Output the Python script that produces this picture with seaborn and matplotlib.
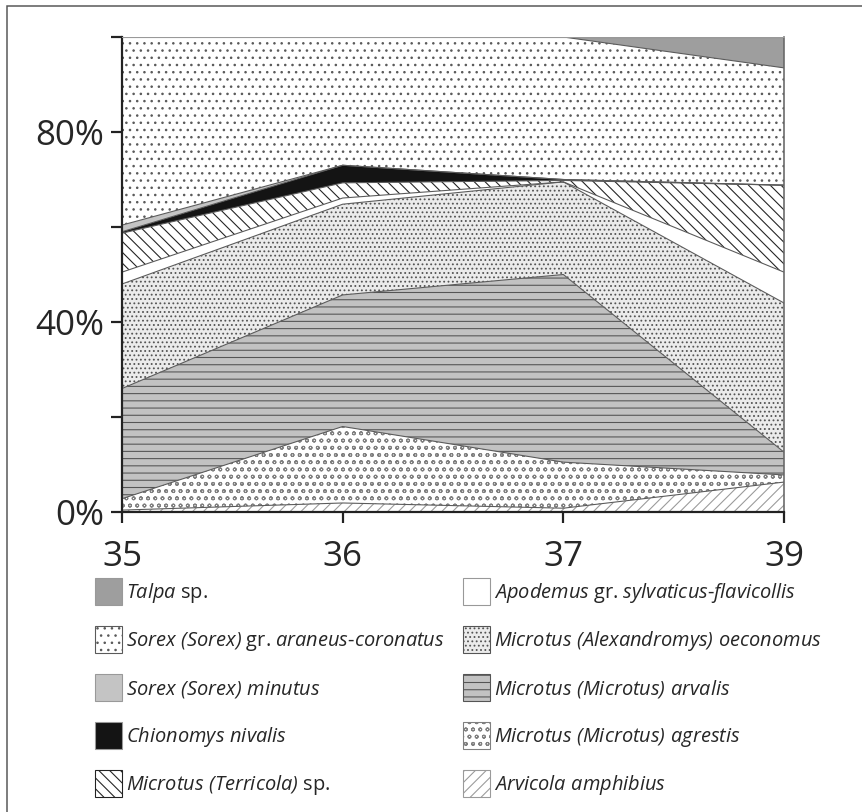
import numpy as np
import pandas as pd
import matplotlib
matplotlib.use('Agg')
import matplotlib.pyplot as plt
from matplotlib.patches import Patch, Rectangle
import seaborn as sns

# sample levels on the x axis (equally spaced)
levels = ['35', '36', '37', '39']

# percentage of each taxon per level, bottom of the stack first
arvicola = [0.4, 1.9, 0.8, 6.3]
agrestis = [2.4, 16.1, 9.7, 1.5]
arvalis = [23.2, 27.7, 39.5, 4.8]
oeconomus = [22.0, 19.1, 19.5, 31.4]
apodemus = [2.5, 1.3, 0.0, 6.5]
terricola = [8.2, 3.2, 0.3, 18.3]
chionomys = [0.3, 3.7, 0.2, 0.0]
minutus = [1.4, 0.0, 0.0, 0.0]
araneus = [39.6, 27.0, 30.0, 24.7]
talpa = [0.0, 0.0, 0.0, 6.5]

names = ['Arvicola amphibius', 'Microtus (Microtus) agrestis', 'Microtus (Microtus) arvalis',
         'Microtus (Alexandromys) oeconomus', 'Apodemus gr. sylvaticus-flavicollis',
         'Microtus (Terricola) sp.', 'Chionomys nivalis', 'Sorex (Sorex) minutus',
         'Sorex (Sorex) gr. araneus-coronatus', 'Talpa sp.']
series = [arvicola, agrestis, arvalis, oeconomus, apodemus,
          terricola, chionomys, minutus, araneus, talpa]

# legend texts (italic genus/species, upright "sp." / "gr.")
labels = [r'$\mathit{Arvicola\ amphibius}$',
          r'$\mathit{Microtus\ (Microtus)\ agrestis}$',
          r'$\mathit{Microtus\ (Microtus)\ arvalis}$',
          r'$\mathit{Microtus\ (Alexandromys)\ oeconomus}$',
          r'$\mathit{Apodemus}$ gr. $\mathit{sylvaticus}$-$\mathit{flavicollis}$',
          r'$\mathit{Microtus\ (Terricola)}$ sp.',
          r'$\mathit{Chionomys\ nivalis}$',
          r'$\mathit{Sorex\ (Sorex)\ minutus}$',
          r'$\mathit{Sorex\ (Sorex)}$ gr. $\mathit{araneus}$-$\mathit{coronatus}$',
          r'$\mathit{Talpa}$ sp.']

# face colour, hatch, hatch colour
styles = [('white', '////', '#9a9a9a'),
          ('white', 'ooo', '#808080'),
          ('#c2c2c2', '---', '#555555'),
          ('#ebebeb', '.....', '#555555'),
          ('white', '', '#888888'),
          ('white', '\\\\\\\\', '#222222'),
          ('#141414', '', '#141414'),
          ('#c4c4c4', '', '#aaaaaa'),
          ('white', '...', '#5a5a5a'),
          ('#9e9e9e', '', '#8a8a8a')]

DPI = 130
def pt(px):
    return px * 72 / DPI

sns.set_theme(style='ticks')
plt.rcParams['font.family'] = ['Open Sans', 'DejaVu Sans']
# math parts are only used for the italic names, brackets included
plt.rcParams['mathtext.fontset'] = 'custom'
plt.rcParams['mathtext.rm'] = 'Open Sans:italic'
plt.rcParams['mathtext.it'] = 'Open Sans:italic'
plt.rcParams['hatch.linewidth'] = 0.6

fig = plt.figure(figsize=(862 / DPI, 812 / DPI), dpi=DPI)
fig.patch.set_facecolor('white')
ax = fig.add_axes([122 / 862, 1 - 512 / 812, (784 - 122) / 862, (512 - 37) / 812])
ax.set_facecolor('white')

xpos = np.arange(len(levels))
vals = np.array(series, dtype=float)
tops = np.cumsum(vals, axis=0)
bottoms = tops - vals

for i in range(len(names)):
    face, hatch, edge = styles[i]
    ax.fill_between(xpos, bottoms[i], tops[i], facecolor=face, edgecolor=edge,
                    hatch=hatch, linewidth=0)

# thin boundary lines between the layers
lines = pd.DataFrame({'x': np.tile(xpos, len(names)),
                      'top': tops.ravel(),
                      'taxon': np.repeat(names, len(levels))})
sns.lineplot(data=lines, x='x', y='top', hue='taxon', palette=['#5a5a5a'] * len(names),
             linewidth=0.6, legend=False, ax=ax)

ax.set_xlim(0, 3)
ax.set_ylim(0, 100)
ax.set_xticks(xpos)
ax.set_xticklabels(levels)
ax.set_yticks([0, 40, 80])
ax.set_yticklabels(['0%', '40%', '80%'])
ax.set_yticks([20, 60, 100], minor=True)
ax.set_xlabel('')
ax.set_ylabel('')
ax.tick_params(axis='both', which='both', direction='out', length=pt(11), width=pt(2.2),
               color='#222222')
ax.tick_params(axis='y', which='major', labelsize=pt(35), pad=pt(7))
ax.tick_params(axis='x', labelsize=pt(35), pad=pt(17))
for side in ['left', 'bottom']:
    ax.spines[side].set_linewidth(pt(2.2))
    ax.spines[side].set_color('#222222')
ax.spines['right'].set_linewidth(pt(1.6))
ax.spines['right'].set_color('#666666')
ax.spines['top'].set_linewidth(pt(1))
ax.spines['top'].set_color('#999999')

# legend in two columns, top of the stack first
handles = [Patch(facecolor=s[0], edgecolor=s[2] if s[1] else '#999999', hatch=s[1],
                 linewidth=0.6) for s in styles]
order = list(range(len(names)))[::-1]
fpx = 20.0
fs = pt(fpx)
hh = (27 / fpx - 0.245) / 0.65
common = dict(loc='upper left', frameon=False, fontsize=fs, borderpad=0, borderaxespad=0,
              handlelength=27 / fpx, handleheight=hh, labelspacing=21 / fpx,
              handletextpad=4 / fpx)
leg1 = fig.legend([handles[i] for i in order[:5]], [labels[i] for i in order[:5]],
                  bbox_to_anchor=(95 / 862, 1 - 578 / 812), **common)
leg2 = fig.legend([handles[i] for i in order[5:]], [labels[i] for i in order[5:]],
                  bbox_to_anchor=(463 / 862, 1 - 578 / 812), **common)

# frame of the figure (only left and top edges are visible)
fig.add_artist(Rectangle((7 / 862, -0.1), 1.2, 1.1 - 6 / 812, transform=fig.transFigure,
                         fill=False, edgecolor='#555555', linewidth=pt(1.5)))

fig.savefig('out.png', dpi=DPI, facecolor='white')
